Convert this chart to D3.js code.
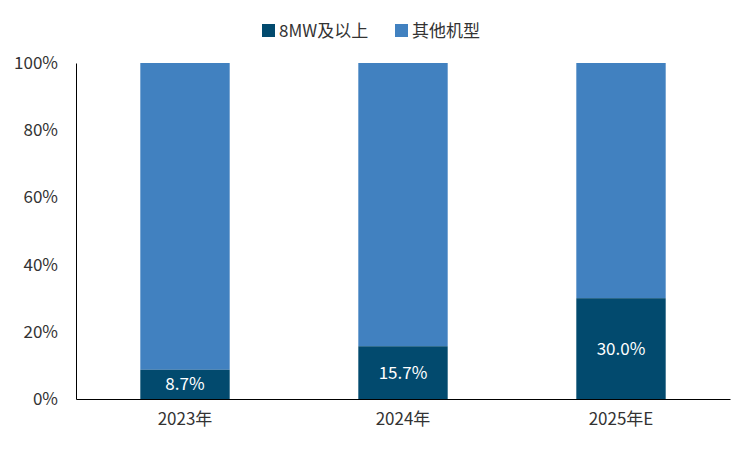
<!DOCTYPE html>
<html>
<head>
<meta charset="UTF-8">
<script src="https://d3js.org/d3.v7.min.js"></script>
<style>body{margin:0;background:#fff;font-family:"Noto Sans CJK SC","Microsoft YaHei",sans-serif;}</style>
</head>
<body>
<script>
// data
const categories = ["2023年", "2024年", "2025年E"];
const big = [8.7, 15.7, 30.0];
const other = [91.3, 84.3, 70.0];
const yTicks = [0, 20, 40, 60, 80, 100];
const seriesNames = ["8MW及以上", "其他机型"];
const colors = ["#024a6e", "#4181c0"];

const W = 751, H = 450;
const margin = {top: 63, right: 21, bottom: 51, left: 76};
const width = W - margin.left - margin.right;
const height = H - margin.top - margin.bottom;

const svg = d3.select("body").append("svg")
  .attr("width", W).attr("height", H);
const g = svg.append("g")
  .attr("transform", "translate(" + margin.left + "," + margin.top + ")");

const x = d3.scaleBand().domain(categories).range([0, width]).paddingInner(0.59).paddingOuter(0.295);
const y = d3.scaleLinear().domain([0, 100]).range([height, 0]);

// y axis
const ya = g.append("g").call(d3.axisLeft(y).tickValues(yTicks).tickSize(0).tickPadding(18).tickFormat(d => d + "%"));
ya.select(".domain").attr("stroke", "#000");
ya.selectAll("text").attr("font-size", 17).attr("fill", "#333").attr("font-family", "Noto Sans CJK SC");

// bars
const rows = categories.map((c, i) => ({c, a: big[i], b: other[i]}));
g.selectAll(".b").data(rows).join("rect")
  .attr("x", d => x(d.c)).attr("width", x.bandwidth())
  .attr("y", d => y(d.a + d.b)).attr("height", d => y(d.a) - y(d.a + d.b))
  .attr("fill", colors[1]);
g.selectAll(".a").data(rows).join("rect")
  .attr("x", d => x(d.c)).attr("width", x.bandwidth())
  .attr("y", d => y(d.a)).attr("height", d => height - y(d.a))
  .attr("fill", colors[0]);
g.selectAll(".lbl").data(rows).join("text")
  .attr("x", d => x(d.c) + x.bandwidth() / 2)
  .attr("y", d => y(d.a / 2) + 6)
  .attr("text-anchor", "middle").attr("fill", "#fff").attr("font-size", 17)
  .text(d => d.a.toFixed(1) + "%");

// x axis
const xa = g.append("g").attr("transform", "translate(0," + height + ")")
  .call(d3.axisBottom(x).tickSize(0).tickPadding(14));
xa.select(".domain").attr("stroke", "#000");
xa.selectAll("text").attr("font-size", 17).attr("fill", "#333").attr("font-family", "Noto Sans CJK SC");

// legend
const lg = svg.append("g").attr("transform", "translate(262,31)");
const offs = [0, 133];
seriesNames.forEach((n, i) => {
  lg.append("rect").attr("x", offs[i]).attr("y", -7).attr("width", 13).attr("height", 13).attr("fill", colors[i]);
  lg.append("text").attr("x", offs[i] + 17).attr("y", 6).attr("font-size", 17).attr("fill", "#333").text(n);
});
</script>
</body>
</html>
